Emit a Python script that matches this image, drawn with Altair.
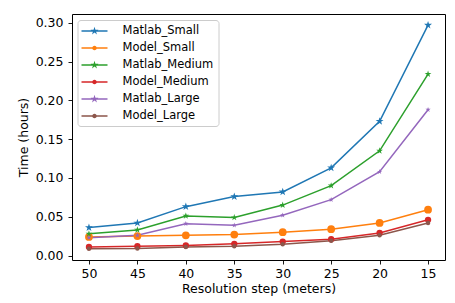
import math
import altair as alt
import pandas as pd

# ---- data ----
resolution = [50, 45, 40, 35, 30, 25, 20, 15]
series_names = ["Matlab_Small", "Model_Small", "Matlab_Medium",
                "Model_Medium", "Matlab_Large", "Model_Large"]
matlab_small = [0.036, 0.042, 0.063, 0.076, 0.082, 0.113, 0.173, 0.297]
model_small = [0.024, 0.025, 0.026, 0.027, 0.030, 0.034, 0.042, 0.059]
matlab_medium = [0.028, 0.033, 0.051, 0.049, 0.065, 0.090, 0.135, 0.234]
model_medium = [0.011, 0.012, 0.013, 0.015, 0.018, 0.021, 0.029, 0.046]
matlab_large = [0.023, 0.026, 0.041, 0.039, 0.052, 0.072, 0.108, 0.188]
model_large = [0.0086, 0.009, 0.011, 0.012, 0.0145, 0.019, 0.026, 0.042]
y_ticks = [0.0, 0.05, 0.10, 0.15, 0.20, 0.25, 0.30]

values = [matlab_small, model_small, matlab_medium,
          model_medium, matlab_large, model_large]
rows = []
for name, vals in zip(series_names, values):
    for r, v in zip(resolution, vals):
        rows.append({"series": name, "res": r, "time": v})
df = pd.DataFrame(rows)

colors = ["#1f77b4", "#ff7f0e", "#2ca02c", "#d62728", "#9467bd", "#8c564b"]
FONT = "DejaVu Sans"


# ---- marker shapes (style) ----
def star_path(R, cx=0.0, cy=0.0, ratio=0.382):
    pts = []
    for i in range(10):
        ang = -math.pi / 2 + i * math.pi / 5
        rr = R if i % 2 == 0 else R * ratio
        pts.append((cx + rr * math.cos(ang), cy + rr * math.sin(ang)))
    d = "M" + "L".join(f"{x:.4f},{y:.4f}" for x, y in pts) + "Z"
    return d


def circle_path(r):
    return (f"M{r:.4f},0A{r:.4f},{r:.4f} 0 1,1 {-r:.4f},0"
            f"A{r:.4f},{r:.4f} 0 1,1 {r:.4f},0Z")


plot_star = star_path(1.0)
# legend symbols: scale factor = sqrt(169)/2 = 6.5 px per unit
s = 6.5
bar = f"M-2,{-0.75/s:.4f}L2,{-0.75/s:.4f}L2,{0.75/s:.4f}L-2,{0.75/s:.4f}Z"
leg_star = bar + star_path(4.2 / s)
leg_circle = bar + circle_path(2.3 / s)

is_matlab = [n.startswith("Matlab") for n in series_names]
plot_shapes = [plot_star if m else "circle" for m in is_matlab]
plot_sizes = [70 if m else 20 for m in is_matlab]
legend_shapes = [leg_star if m else leg_circle for m in is_matlab]

x_enc = alt.X("res:Q",
              scale=alt.Scale(domain=[13.25, 51.75], reverse=True, nice=False, zero=False),
              axis=alt.Axis(values=resolution, format="d", title="Resolution step (meters)"))
y_enc = alt.Y("time:Q",
              scale=alt.Scale(domain=[-0.0058, 0.3114], nice=False, zero=False),
              axis=alt.Axis(values=y_ticks, format=".2f", title="Time (hours)"))

color_scale = alt.Scale(domain=series_names, range=colors)

base = alt.Chart(df)

lines = base.mark_line(strokeWidth=1.5).encode(
    x=x_enc, y=y_enc,
    color=alt.Color("series:N", scale=color_scale, legend=None),
)

points = base.mark_point(filled=True, opacity=1, strokeWidth=0).encode(
    x=x_enc, y=y_enc,
    color=alt.Color("series:N", scale=color_scale, legend=None),
    shape=alt.Shape("series:N", scale=alt.Scale(domain=series_names, range=plot_shapes), legend=None),
    size=alt.Size("series:N", scale=alt.Scale(domain=series_names, range=plot_sizes), legend=None),
)

legend_cfg = dict(
    title=None, orient="none", legendX=5.5, legendY=6,
    labelFont=FONT, labelFontSize=11.5, labelColor="black",
    padding=4.5, rowPadding=5, symbolOffset=6, labelOffset=21.5,
    strokeColor="#cccccc", fillColor="rgba(255,255,255,0.8)", cornerRadius=3,
    symbolStrokeWidth=0, symbolSize=169,
)

legend_layer = base.mark_point(filled=True, opacity=1, size=169, strokeWidth=0).encode(
    x=x_enc, y=y_enc,
    color=alt.Color("series:N", scale=alt.Scale(domain=series_names, range=colors),
                    legend=alt.Legend(**legend_cfg)),
    shape=alt.Shape("series:N", scale=alt.Scale(domain=series_names, range=legend_shapes),
                    legend=alt.Legend(**legend_cfg)),
).transform_filter("false")

chart = alt.layer(lines, points, legend_layer).resolve_scale(
    color="independent", shape="independent", size="independent"
).properties(
    width=373, height=246,
    autosize=alt.AutoSizeParams(type="none"),
    padding={"left": 64, "top": 6, "right": 2, "bottom": 42},
).configure_view(
    stroke="black", strokeWidth=1
).configure_axis(
    grid=False, domain=False,
    labelFont=FONT, titleFont=FONT, labelFontSize=12.5, titleFontSize=12.5,
    labelColor="black", titleColor="black", titleFontWeight="normal",
    tickColor="black", tickSize=4, tickWidth=0.9,
).configure_axisY(
    labelPadding=5, titlePadding=5,
).configure_axisX(
    labelPadding=3.5, titlePadding=2,
)

chart.save("out.html", embed_options={"renderer": "svg", "actions": False})
